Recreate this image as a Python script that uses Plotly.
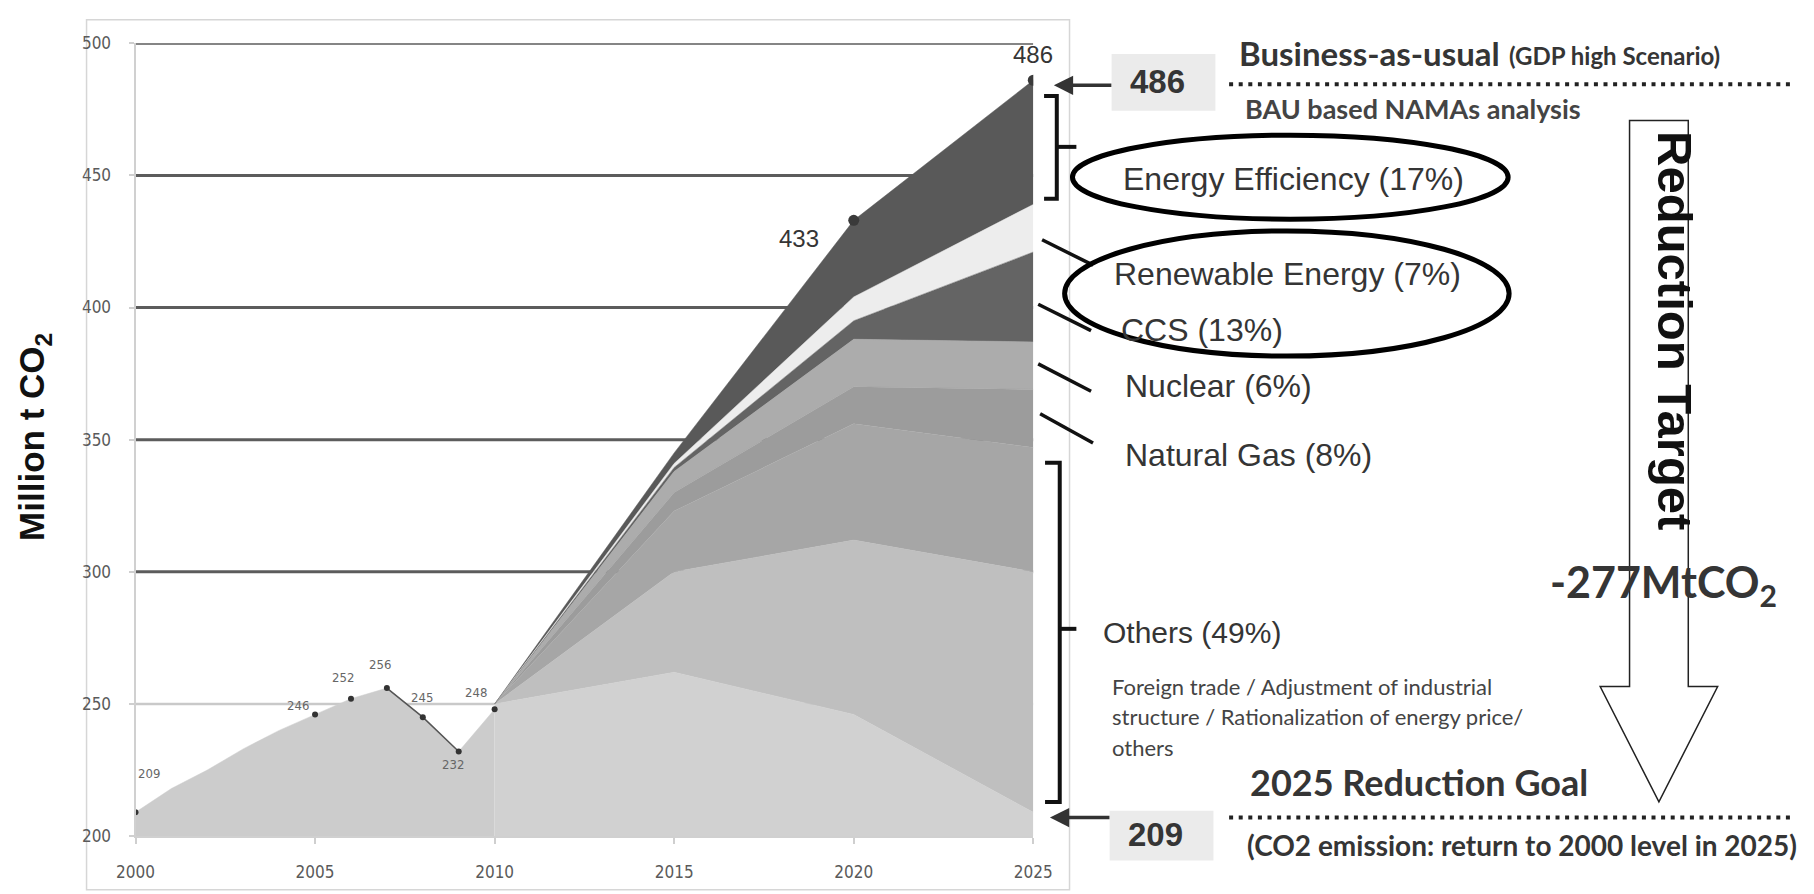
import plotly.graph_objects as go

W, H = 1814, 894

# ---- data -----------------------------------------------------------------
# historical emissions, Mt CO2
hist_years = [2000, 2001, 2002, 2003, 2004, 2005, 2006, 2007, 2008, 2009, 2010]
hist_values = [209, 218, 225, 233, 240, 246, 252, 256, 245, 232, 248]
# labelled historical points
label_years = [2000, 2005, 2006, 2007, 2008, 2009, 2010]
label_values = [209, 246, 252, 256, 245, 232, 248]

# projection, cumulative level of each band (Mt CO2)
proj_years = [2010, 2015, 2020, 2025]
others_lower = [250, 262, 246, 209]
others_middle = [250, 300, 312, 300]
others_upper = [250, 323, 356, 347]
natural_gas_top = [250, 330, 370, 369]
nuclear_top = [250, 338, 388, 387]
ccs_top = [250, 339.5, 395, 421]
renewable_top = [250, 341, 404, 439]
bau_top = [250, 345, 433, 486]

bau_2020 = 433
bau_2025 = 486
goal_2025 = 209

y_ticks = [200, 250, 300, 350, 400, 450, 500]
x_ticks = [2000, 2005, 2010, 2015, 2020, 2025]

measures = ["Energy Efficiency (17%)", "Renewable Energy (7%)", "CCS (13%)",
            "Nuclear (6%)", "Natural Gas (8%)", "Others (49%)"]

# ---- styling ----------------------------------------------------------------
ARIAL = "Liberation Sans, Arial, sans-serif"
CALIBRI = "Lato, Open Sans, sans-serif"
NARROW = "Liberation Sans Narrow, DejaVu Sans Condensed, sans-serif"
TXT = "#353535"

band_series = [others_lower, others_middle, others_upper, natural_gas_top,
               nuclear_top, ccs_top, renewable_top, bau_top]
band_colors = ["#d1d1d1", "#bfbfbf", "#a6a6a6", "#9c9c9c",
               "#acacac", "#646464", "#ededed", "#595959"]
# screen offsets of the small historical labels
label_shift = [(13, -39), (-17, -9), (-8, -21), (-7, -24), (-1, -20), (-6, 13), (-19, -17)]


def px(x):
    return x / W


def py(y):
    return 1 - y / H


def ppath(points, close=False):
    s = "M " + " L ".join(f"{px(x):.5f},{py(y):.5f}" for x, y in points)
    return s + (" Z" if close else "")


def note(x, y, text, font, xanchor="center", **kw):
    """Text placed in page pixel coordinates."""
    d = dict(x=px(x), y=py(y), xref="paper", yref="paper", text=text, showarrow=False,
             xanchor=xanchor, yanchor="middle", font=font)
    d.update(kw)
    return d


fig = go.Figure()

# historical area
fig.add_trace(go.Scatter(x=hist_years, y=hist_values, fill="tozeroy", mode="lines",
                         line=dict(color="#cccccc", width=0.5), fillcolor="#cccccc",
                         hoverinfo="skip", showlegend=False))

# projection bands
for i, (vals, col) in enumerate(zip(band_series, band_colors)):
    fig.add_trace(go.Scatter(x=proj_years, y=vals, mode="lines",
                             fill="tozeroy" if i == 0 else "tonexty",
                             line=dict(color=col, width=0.5), fillcolor=col,
                             hoverinfo="skip", showlegend=False))

# 2007-2009 drop line
fig.add_trace(go.Scatter(x=hist_years[7:10], y=hist_values[7:10], mode="lines",
                         line=dict(color="#555555", width=1.5), showlegend=False,
                         hoverinfo="skip"))

# historical markers
fig.add_trace(go.Scatter(x=label_years, y=label_values, mode="markers",
                         marker=dict(color="#333333", size=6), showlegend=False))

# BAU markers
fig.add_trace(go.Scatter(x=[2020, 2025], y=[bau_2020, bau_2025], mode="markers",
                         marker=dict(color="#3a3a3a", size=11), showlegend=False))

annotations = []
shapes = []

for yr, v, (dx, dy) in zip(label_years, label_values, label_shift):
    annotations.append(dict(x=yr, y=v, xref="x", yref="y", text=str(v), showarrow=False,
                            xanchor="center", yanchor="middle",
                            xshift=dx, yshift=-dy, font=dict(family=NARROW, size=13, color="#666666")))

annotations.append(dict(x=2025, y=bau_2025, xref="x", yref="y", text=str(bau_2025),
                        showarrow=False, xanchor="center", yanchor="middle", yshift=26,
                        font=dict(family=ARIAL, size=24, color=TXT)))
annotations.append(dict(x=2020, y=bau_2020, xref="x", yref="y", text=str(bau_2020),
                        showarrow=False, xanchor="center", yanchor="middle",
                        xshift=-55, yshift=-18, font=dict(family=ARIAL, size=24, color=TXT)))

# gridlines
for v in y_ticks[1:]:
    shapes.append(dict(type="line", xref="x", yref="y", x0=2000, x1=2025, y0=v, y1=v,
                       layer="below",
                       line=dict(color="#c9c9c9" if v == 250 else "#5c5c5c",
                                 width=2.5 if v == 250 else 3)))

# outer frame
shapes.append(dict(type="rect", xref="paper", yref="paper", x0=px(69), x1=px(1073),
                   y0=py(900), y1=py(10), line=dict(color="#d6d6d6", width=1.5), layer="below"))

# y-axis title
annotations.append(note(16, 437, "<b>Million t CO<sub>2</sub></b>",
                        dict(family=ARIAL, size=35, color="#111111"), textangle=-90))

# value boxes and arrows
for val, (bx0, by0, bx1, by1), tip in [(bau_2025, (1116, 45, 1222, 103), (1057, 77)),
                                        (goal_2025, (1114, 819, 1220, 870), (1053, 826))]:
    shapes.append(dict(type="rect", xref="paper", yref="paper", x0=px(bx0), x1=px(bx1),
                       y0=py(by1), y1=py(by0), fillcolor="#ebebeb", line=dict(width=0)))
    annotations.append(note(bx0 + 47, (by0 + by1) / 2 - 1, f"<b>{val}</b>",
                            dict(family=ARIAL, size=33, color=TXT)))
    annotations.append(dict(x=px(tip[0]), y=py(tip[1]), xref="paper", yref="paper", text="",
                            showarrow=True, ax=bx0 - tip[0], ay=0, axref="pixel", ayref="pixel",
                            arrowhead=2, arrowsize=1.1, arrowwidth=3.5, arrowcolor="#333333"))

# brackets
bracket_line = dict(color="#111111", width=4)
for (ytop, ybot, ymid, xl, xv) in [(88, 193, 140, 1047, 1060), (463, 810, 633, 1048, 1063)]:
    shapes.append(dict(type="path", xref="paper", yref="paper",
                       path=ppath([(xl, ytop), (xv, ytop), (xv, ybot), (xl, ybot)]),
                       line=bracket_line))
    shapes.append(dict(type="path", xref="paper", yref="paper",
                       path=ppath([(xv, ymid), (1080, ymid)]), line=bracket_line))

# leader strokes for single measures
for (x0, y0, x1, y1) in [(1045, 235, 1097, 261), (1041, 301, 1095, 328),
                         (1041, 362, 1095, 390), (1043, 413, 1097, 443)]:
    shapes.append(dict(type="path", xref="paper", yref="paper",
                       path=ppath([(x0, y0), (x1, y1)]), line=dict(color="#111111", width=3.5)))

# measure labels
label_pos = [(1126, 173), (1116, 270), (1124, 327), (1128, 385), (1128, 455), (1105, 637)]
label_size = [32, 32, 32, 32, 32, 30]
for txt, (lx, ly), fs in zip(measures, label_pos, label_size):
    annotations.append(note(lx, ly, txt, dict(family=ARIAL, size=fs, color=TXT), xanchor="left"))

for i, line in enumerate(["Foreign trade / Adjustment of industrial",
                          "structure / Rationalization of energy price/",
                          "others"]):
    annotations.append(note(1114, 692 + i * 31, line,
                            dict(family=CALIBRI, size=22, color="#444444"), xanchor="left"))

# highlight rings
for (x0, y0, x1, y1) in [(1076, 128, 1521, 214), (1068, 226, 1522, 354)]:
    shapes.append(dict(type="circle", xref="paper", yref="paper", x0=px(x0), x1=px(x1),
                       y0=py(y1), y1=py(y0), line=dict(color="#000000", width=5)))

# BAU and goal headers
annotations += [
    note(1244, 44, "<b>Business-as-usual</b>", dict(family=CALIBRI, size=33, color=TXT), xanchor="left"),
    note(1520, 47, "<b>(GDP high Scenario)</b>", dict(family=CALIBRI, size=24, color=TXT), xanchor="left"),
    note(1250, 101, "<b>BAU based NAMAs analysis</b>", dict(family=CALIBRI, size=27, color="#444444"),
         xanchor="left"),
    note(1255, 790, "<b>2025 Reduction Goal</b>", dict(family=CALIBRI, size=36, color=TXT), xanchor="left"),
    note(1252, 854, "<b>(CO2 emission: return to 2000 level in 2025)</b>",
         dict(family=CALIBRI, size=28, color=TXT), xanchor="left"),
]

for yy, x0 in [(76, 1236), (826, 1236)]:
    shapes.append(dict(type="line", xref="paper", yref="paper", x0=px(x0), x1=px(1814),
                       y0=py(yy), y1=py(yy), line=dict(color="#222222", width=4, dash="4px,5.6px")))

# reduction target block arrow
shapes.append(dict(type="path", xref="paper", yref="paper",
                   path=ppath([(1645, 113), (1705, 113), (1705, 692), (1735, 692),
                               (1675, 810), (1615, 692), (1645, 692)], close=True),
                   fillcolor="white", line=dict(color="#222222", width=1.5)))
annotations.append(note(1692, 328, "<b>Reduction Target</b>",
                        dict(family=ARIAL, size=49, color="#111111"), textangle=90))
annotations.append(note(1680, 588, f"<b>-{bau_2025 - goal_2025}MtCO<sub>2</sub></b>",
                        dict(family=CALIBRI, size=43, color=TXT)))

fig.update_layout(
    width=W, height=H,
    margin=dict(l=0, r=0, t=0, b=0),
    paper_bgcolor="white", plot_bgcolor="white",
    showlegend=False,
    xaxis=dict(domain=[px(119), px(1036)], range=[2000, 2025], tickvals=x_ticks,
               showgrid=False, zeroline=False, showline=True, linecolor="#d0d0d0", linewidth=2,
               ticks="outside", ticklen=6, tickcolor="#cfcfcf", tickwidth=1.5,
               ticklabelstandoff=14,
               tickfont=dict(family=NARROW, size=17, color="#5a5a5a")),
    yaxis=dict(domain=[py(845), py(34)], range=[200, 500], tickvals=y_ticks,
               showgrid=False, zeroline=False, showline=True, linecolor="#d0d0d0", linewidth=2,
               ticks="outside", ticklen=5, tickcolor="#cfcfcf", tickwidth=1.5,
               ticklabelstandoff=14,
               tickfont=dict(family=NARROW, size=17, color="#5a5a5a")),
    shapes=shapes,
    annotations=annotations,
)

fig.write_html("out.html")
